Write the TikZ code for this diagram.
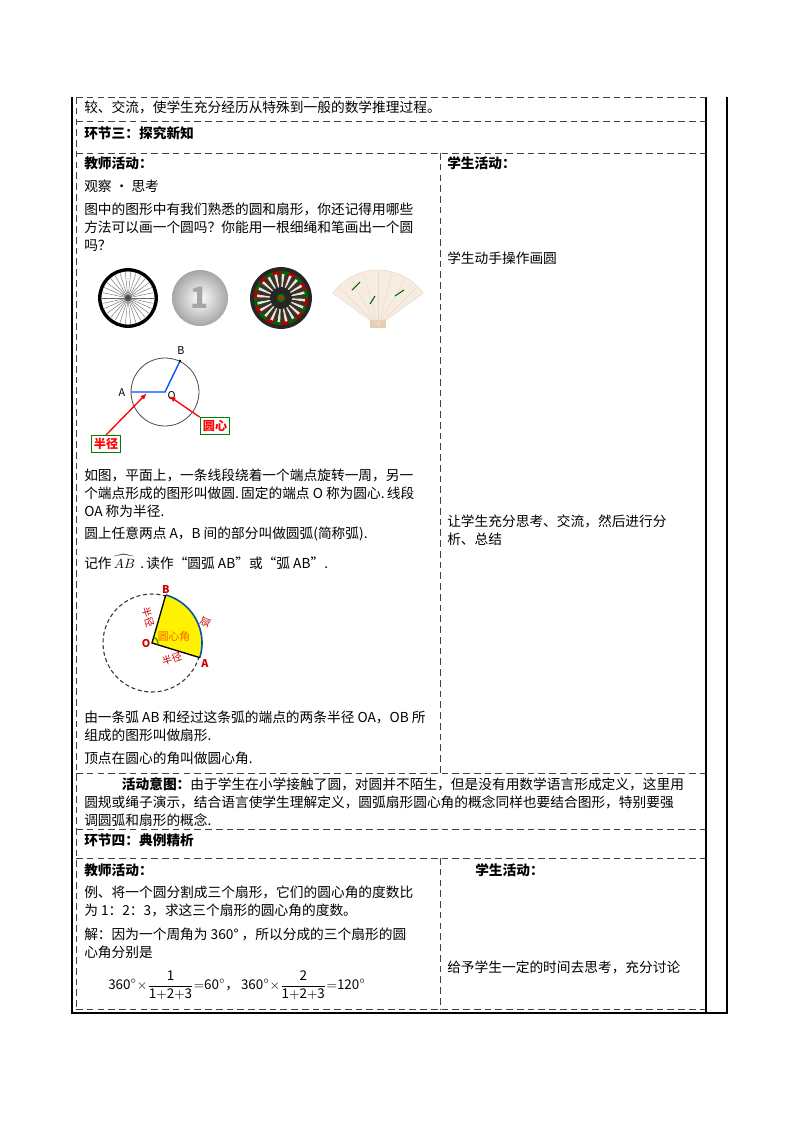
\documentclass[tikz,border=0pt]{standalone}
\usepackage{fontspec}
\setmainfont{Noto Sans CJK SC}
\usetikzlibrary{arrows.meta}
\tikzset{
 dsh/.style={draw=black!75,line width=0.7pt,dash pattern=on 5pt off 3pt},
 txt/.style={anchor=west,inner sep=0pt,align=left,font=\fontsize{10.2}{13.4}\selectfont},
 hd/.style={txt,font=\fontsize{10.2}{13.4}\selectfont\bfseries},
 lbl/.style={font=\fontsize{8}{9}\selectfont\bfseries,text=red!80!black,inner sep=1pt},
 redarr/.style={red,line width=1pt,-{Latex[length=5pt]}},
 tag/.style={draw=green!50!black,line width=0.8pt,fill=white,text=red,font=\fontsize{9}{10}\selectfont\bfseries,inner sep=2pt}
}
\begin{document}
\begin{tikzpicture}[x=0.744pt,y=-0.744pt]
\useasboundingbox (0,0) rectangle (800,1132);
% frame
\draw[line width=0.8pt] (72,97) -- (72,1013) -- (727,1013) -- (727,97);
\draw[line width=0.8pt] (706,97) -- (706,1013);
\foreach \yy in {97,121,153,773,829,858,1009} \draw[dsh] (76,\yy) -- (706,\yy);
\draw[dsh] (76,97) -- (76,1009);
\draw[dsh] (440,153) -- (440,773);
\draw[dsh] (440,858) -- (440,1009);
% texts
\node[txt] (t1) at (84,107) {较、交流，使学生充分经历从特殊到一般的数学推理过程。};
\node[hd] (h3) at (84,133) {环节三：探究新知};
\node[hd] (ta1) at (84,163) {教师活动：};
\node[hd] (sa1) at (447,163) {学生活动：};
\node[txt] (gc) at (84,186) {观察 • 思考};
\node[txt,anchor=north west] (p1) at (84,203) {图中的图形中有我们熟悉的圆和扇形，你还记得用哪些\\方法可以画一个圆吗？你能用一根细绳和笔画出一个圆\\吗？};
\node[txt] (s1) at (447,258) {学生动手操作画圆};
% pictures
\node[circle,draw,line width=2.5pt,minimum size=42pt,inner sep=0pt] (wheel) at (128,298) {};
\foreach \a in {0,12,...,348} \draw[black!60,line width=0.3pt] (wheel.center) -- ++(\a:26);
\fill[black!70] (wheel.center) circle (3);
\shade[inner color=white,outer color=black!35] (200,298) circle (28);
\node[circle,minimum size=30pt,inner sep=0pt] (coin) at (200,298) {\fontsize{22}{22}\selectfont\bfseries\color{black!35}1};
\node[circle,fill=black!85,minimum size=46pt,inner sep=0pt] (dart) at (281,298) {};
\foreach \a in {0,36,...,324}{\fill[red!70!black] (281,298) -- ++(\a:27) arc[start angle=\a,end angle=\a+18,radius=27] -- cycle;
 \fill[green!40!black] (281,298) -- ++(\a+18:27) arc[start angle=\a+18,end angle=\a+36,radius=27] -- cycle;}
\foreach \a in {0,18,...,342}{\fill[white!90!black] (281,298) -- ++(\a+2:24) arc[start angle=\a+2,end angle=\a+9,radius=24] -- cycle;
 \fill[black!80] (281,298) -- ++(\a+9:24) arc[start angle=\a+9,end angle=\a+16,radius=24] -- cycle;}
\fill[black!85] (281,298) circle (11);\fill[green!50!black] (281,298) circle (4);\fill[red] (281,298) circle (2);
\fill[brown!15!white,draw=brown!30] (378,326) -- ++(216:56) arc[start angle=216,end angle=324,radius=56] -- cycle;
\fill[brown!40] (370,328) rectangle (386,320);
\foreach \a in {225,240,...,315}\draw[brown!30,line width=0.3pt] (378,326) -- ++(\a:54);
\draw[green!40!black,line width=0.8pt] (352,290) -- (360,282) (395,296)--(404,290) (370,304)--(375,296);
% circle diagram
\coordinate (O) at (165,392);
\draw[black!70,line width=0.6pt] (O) circle (34);
\coordinate (A) at (131,392);
\coordinate (B) at (180,361);
\draw[blue!70!cyan,line width=1pt] (A) -- (O) -- (B);
\fill (B) circle (1.3);
\node[font=\fontsize{8}{9}\selectfont\itshape,anchor=south] (Bl) at (181,359) {B};
\node[font=\fontsize{8}{9}\selectfont\itshape,anchor=east] (Al) at (130,393) {A};
\node[font=\fontsize{8}{9}\selectfont\itshape,anchor=west,inner sep=1pt] (Ol) at (166,396) {O};
\node[tag] (rad) at (106,444) {半径};
\node[tag] (cen) at (215,426) {圆心};
\coordinate (ra) at (147,393);
\coordinate (ca) at (169,396);
\draw[redarr] (rad.north) -- (ra);
\draw[redarr] (cen.north west) -- (ca);
% paragraphs
\node[txt,anchor=north west] (p2) at (84,469) {如图，平面上，一条线段绕着一个端点旋转一周，另一\\个端点形成的图形叫做圆.\,固定的端点 O 称为圆心.\,线段\\OA 称为半径.};
\node[txt] (p3) at (84,534) {圆上任意两点 A，B 间的部分叫做圆弧(简称弧).};
\node[txt] (p4) at (84,562) {记作\,$\widehat{AB}$\, .\,读作“圆弧 AB”或“弧 AB”.};
\node[txt,anchor=north west] (s2) at (447,515) {让学生充分思考、交流，然后进行分\\析、总结};
% sector
\coordinate (SO) at (152,643);
\draw[black!80,line width=0.8pt,dash pattern=on 3pt off 2pt] (SO) circle (49);
\fill[yellow] (SO) -- ++(17:50) arc[start angle=17,end angle=-74,radius=50] -- cycle;
\draw[teal!70!blue,line width=1.2pt] (SO) ++(17:50) coordinate (SA) arc[start angle=17,end angle=-74,radius=50] coordinate (SB);
\draw[line width=1pt] (SA) -- (SO) -- (SB);
\draw[green!60!black,line width=0.8pt] (SO) ++(17:6) arc[start angle=17,end angle=-74,radius=6];
\node[lbl,anchor=south] (sBl) at (SB) {B};
\node[lbl,anchor=north west] (sAl) at (SA) {A};
\node[lbl,anchor=east] (sOl) at (SO) {O};
\node[lbl,font=\fontsize{7.5}{8}\selectfont,rotate=-74] (r1) at (148,617) {半径};
\node[lbl,font=\fontsize{7.5}{8}\selectfont,rotate=17] (r2) at (172,659) {半径};
\node[lbl,font=\fontsize{7.5}{8}\selectfont,rotate=60] (arcl) at (206,622) {弧};
\node[font=\fontsize{8}{9}\selectfont,text=orange!70!red,inner sep=0pt] (ang) at (174,636) {圆心角};
\node[txt,anchor=north west] (p5) at (84,711) {由一条弧 AB 和经过这条弧的端点的两条半径 OA，OB 所\\组成的图形叫做扇形.};
\node[txt] (p6) at (84,758) {顶点在圆心的角叫做圆心角.};
\node[txt,anchor=north west] (p7) at (84,777) {\hspace*{28pt}\textbf{活动意图：}由于学生在小学接触了圆，对圆并不陌生，但是没有用数学语言形成定义，这里用\\圆规或绳子演示，结合语言使学生理解定义，圆弧扇形圆心角的概念同样也要结合图形，特别要强\\调圆弧和扇形的概念.};
\node[hd] (h4) at (84,840) {环节四：典例精析};
\node[hd] (ta2) at (84,870) {教师活动：};
\node[hd] (sa2) at (475,870) {学生活动：};
\node[txt,anchor=north west] (p8) at (84,886) {例、将一个圆分割成三个扇形，它们的圆心角的度数比\\为 1：2：3，求这三个扇形的圆心角的度数。};
\node[txt,anchor=north west] (p9) at (84,928) {解：因为一个周角为 360° ，所以分成的三个扇形的圆\\心角分别是};
\node[txt,font=\fontsize{10}{12}\selectfont] (m1) at (108,985) {$\displaystyle\mathrm{360^\circ{\times}\frac{1}{1{+}2{+}3}{=}60^\circ}$，\,$\displaystyle\mathrm{360^\circ{\times}\frac{2}{1{+}2{+}3}{=}120^\circ}$};
\node[txt] (s3) at (447,967) {给予学生一定的时间去思考，充分讨论};
\end{tikzpicture}
\end{document}
